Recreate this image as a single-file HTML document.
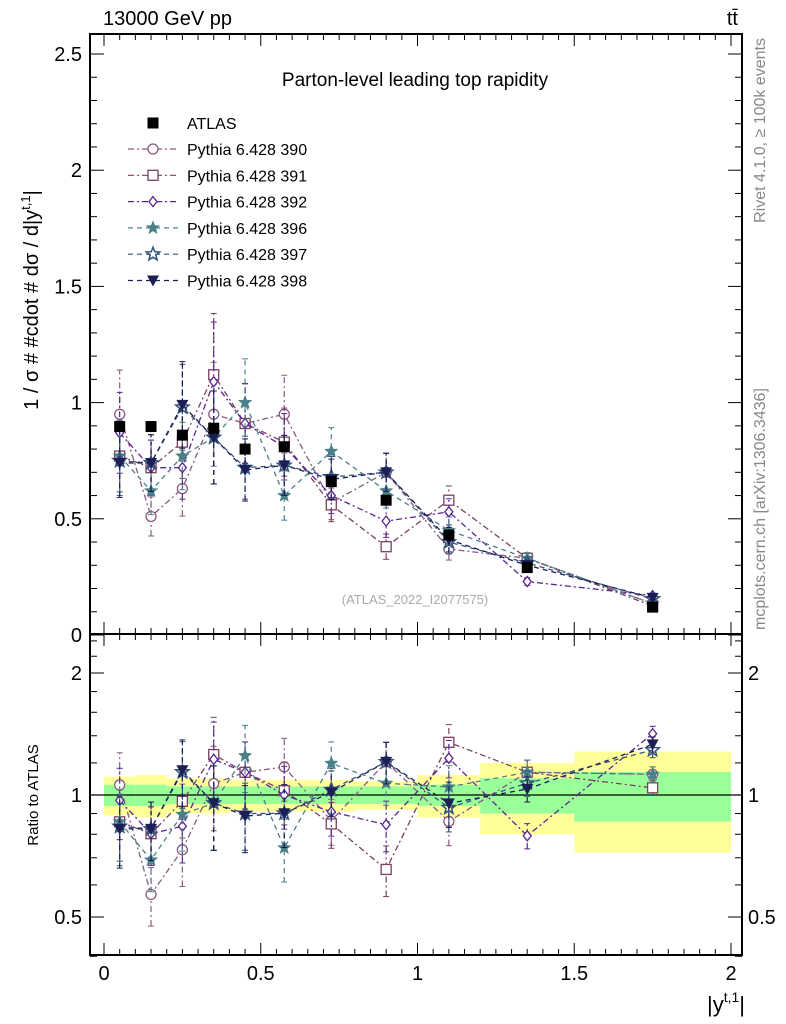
<!DOCTYPE html>
<html><head><meta charset="utf-8">
<style>
html,body{margin:0;padding:0;background:#fff;}
svg{display:block;font-family:"Liberation Sans",sans-serif;}
</style></head>
<body>
<svg id="chart" width="786" height="1024" viewBox="0 0 786 1024">
  <text x="103" y="25" font-size="20">13000 GeV pp</text>
  <text x="738" y="25" font-size="20" text-anchor="end">tt̄</text>
  <text x="415" y="86" font-size="19" text-anchor="middle">Parton-level leading top rapidity</text>
  <text x="415" y="604" font-size="13" fill="#aaa" text-anchor="middle">(ATLAS_2022_I2077575)</text>
  <text transform="translate(765,38) rotate(-90)" font-size="16" fill="#888" text-anchor="end">Rivet 4.1.0, ≥ 100k events</text>
  <text transform="translate(765,630) rotate(-90)" font-size="16" fill="#888">mcplots.cern.ch [arXiv:1306.3436]</text>
  <text transform="translate(38,300) rotate(-90)" font-size="20" text-anchor="middle">1 / σ # #cdot # dσ / d|y<tspan dy="-8" font-size="13">t,1</tspan><tspan dy="8">|</tspan></text>
  <text transform="translate(38,795) rotate(-90)" font-size="15" text-anchor="middle">Ratio to ATLAS</text>
  <text x="745" y="1012" font-size="22" text-anchor="end">|y<tspan dy="-10" font-size="14">t,1</tspan><tspan dy="10">|</tspan></text>
  <g id="g"></g>
</svg>
<script>
const binEdges=[0,0.1,0.2,0.3,0.4,0.5,0.65,0.8,1.0,1.2,1.5,2.0];
const xCenters=[0.05,0.15,0.25,0.35,0.45,0.575,0.725,0.9,1.1,1.35,1.75];
const atlas=[0.897,0.897,0.86,0.89,0.80,0.81,0.66,0.58,0.43,0.29,0.12];
const yellowRel=[0.11,0.12,0.10,0.10,0.09,0.09,0.09,0.08,0.12,0.20,0.28];
const greenRel=[0.06,0.06,0.05,0.05,0.05,0.05,0.05,0.05,0.06,0.10,0.14];
const mcErr=[0.17,0.14,0.16,0.20,0.16,0.15,0.11,0.10,0.09,0.05,0.03];
const p390=[0.95,0.51,0.63,0.95,0.91,0.95,0.57,0.70,0.37,0.33,0.135];
const p391=[0.77,0.72,0.83,1.12,0.91,0.83,0.56,0.38,0.58,0.33,0.125];
const p392=[0.87,0.72,0.72,1.09,0.91,0.81,0.60,0.49,0.53,0.23,0.17];
const p396=[0.77,0.62,0.77,0.85,1.00,0.60,0.79,0.62,0.45,0.33,0.135];
const p397=[0.75,0.74,0.98,0.85,0.72,0.73,0.68,0.70,0.40,0.31,0.155];
const p398=[0.74,0.74,0.99,0.85,0.71,0.73,0.67,0.70,0.41,0.30,0.16];
const yTicks=[0,0.5,1,1.5,2,2.5];
const yTickLabels=["0","0.5","1","1.5","2","2.5"];
const xTicks=[0,0.5,1,1.5,2];
const xTickLabels=["0","0.5","1","1.5","2"];
const rTicks=[0.5,1,2];
const rTickLabels=["0.5","1","2"];

const NS="http://www.w3.org/2000/svg";
const g=document.getElementById('g');
const L=90,R=742,T=34,MB=634,RB=955;
const X=v=>104+313.5*v;
const Y=v=>635-232.4*v;
const RY=v=>795-122*Math.log2(v);
function mk(tag,at,parent){const e=document.createElementNS(NS,tag);for(const k in at)e.setAttribute(k,at[k]);(parent||g).appendChild(e);return e;}

for(let i=0;i<xCenters.length;i++){
  const x0=X(binEdges[i]),x1=X(binEdges[i+1]);
  let e=mk('rect',{x:x0,y:RY(1+yellowRel[i]),width:x1-x0,height:RY(1-yellowRel[i])-RY(1+yellowRel[i]),fill:'#ffff99'});
  
  
  e=mk('rect',{x:x0,y:RY(1+greenRel[i]),width:x1-x0,height:RY(1-greenRel[i])-RY(1+greenRel[i]),fill:'#99ff99'});
  
  
}
mk('line',{x1:L,x2:R,y1:RY(1),y2:RY(1),stroke:'#000','stroke-width':1.2});

let f=mk('rect',{x:L,y:T,width:R-L,height:MB-T,fill:'none',stroke:'#000','stroke-width':2});


f=mk('rect',{x:L,y:MB,width:R-L,height:RB-MB,fill:'none',stroke:'#000','stroke-width':2});



for(let v=0;v<=2.001;v+=0.05){
  const big=Math.abs(v*2-Math.round(v*2))<1e-6, len=big?12:6;
  [T,MB].forEach(y0=>{mk('line',{x1:X(v),x2:X(v),y1:y0,y2:y0+len,stroke:'#000'});});
  [MB,RB].forEach(y0=>{mk('line',{x1:X(v),x2:X(v),y1:y0,y2:y0-len,stroke:'#000'});});
}
xTicks.forEach((v,i)=>{const t=mk('text',{x:X(v),y:980,'font-size':20,'text-anchor':'middle'});t.textContent=xTickLabels[i];

});
for(let v=0;v<=2.58;v+=0.1){
  const big=Math.abs(v*2-Math.round(v*2))<1e-6,len=big?14:7;
  mk('line',{x1:L,x2:L+len,y1:Y(v),y2:Y(v),stroke:'#000'});
  mk('line',{x1:R,x2:R-len,y1:Y(v),y2:Y(v),stroke:'#000'});
}
yTicks.forEach((v,i)=>{const t=mk('text',{x:82,y:Y(v)+7,'font-size':20,'text-anchor':'end'});t.textContent=yTickLabels[i];

});
[0.4,0.5,0.6,0.7,0.8,0.9,1,1.2,1.4,1.6,1.8,2,2.2,2.4].forEach(v=>{
  const big=[0.5,1,2].includes(v),len=big?14:7;
  mk('line',{x1:L,x2:L+len,y1:RY(v),y2:RY(v),stroke:'#000'});
  mk('line',{x1:R,x2:R-len,y1:RY(v),y2:RY(v),stroke:'#000'});
});
rTicks.forEach((v,i)=>{const t=mk('text',{x:82,y:RY(v)+7,'font-size':20,'text-anchor':'end'});t.textContent=rTickLabels[i];


const t2=mk('text',{x:748,y:RY(v)+7,'font-size':20});t2.textContent=rTickLabels[i];

});

function marker(kind,x,y,c,parent){
  if(kind==='circle')mk('circle',{cx:x,cy:y,r:5,fill:'#fff',stroke:c,'stroke-width':1.3},parent);
  else if(kind==='square')mk('rect',{x:x-5,y:y-5,width:10,height:10,fill:'#fff',stroke:c,'stroke-width':1.3},parent);
  else if(kind==='diamond')mk('polygon',{points:`${x},${y-5} ${x+4},${y} ${x},${y+5} ${x-4},${y}`,fill:'#fff',stroke:c,'stroke-width':1.3},parent);
  else if(kind==='star'||kind==='ostar'){let p=[];for(let k=0;k<10;k++){const r=k%2?3:7,a=-Math.PI/2+k*Math.PI/5;p.push((x+r*Math.cos(a)).toFixed(1)+','+(y+r*Math.sin(a)).toFixed(1));}
    mk('polygon',{points:p.join(' '),fill:kind==='star'?c:'none',stroke:c,'stroke-width':kind==='star'?0.5:1.5},parent);}
  else if(kind==='tri')mk('polygon',{points:`${x-6},${y-5} ${x+6},${y-5} ${x},${y+6}`,fill:c},parent);
  else if(kind==='fsq')mk('rect',{x:x-5.5,y:y-5.5,width:11,height:11,fill:c},parent);
}
const series=[
 {name:'Pythia 6.428 390',vals:p390,c:'#8a5a80',m:'circle',d:'6 3 2 3'},
 {name:'Pythia 6.428 391',vals:p391,c:'#7a4060',m:'square',d:'6 3 2 3'},
 {name:'Pythia 6.428 392',vals:p392,c:'#5a2590',m:'diamond',d:'6 3 2 3'},
 {name:'Pythia 6.428 396',vals:p396,c:'#4a8088',m:'star',d:'5 4'},
 {name:'Pythia 6.428 397',vals:p397,c:'#35557e',m:'ostar',d:'5 4'},
 {name:'Pythia 6.428 398',vals:p398,c:'#1c1e55',m:'tri',d:'5 4'}
];
series.forEach((s,si)=>{
  const sg=mk('g',{});
  
  
  let pts=[],rpts=[];
  s.vals.forEach((v,i)=>{
    const x=X(xCenters[i]),e=mcErr[i]*v/(v>0.5?0.85:0.7);
    pts.push(x+','+Y(v));
    mk('line',{x1:x,x2:x,y1:Y(v-e),y2:Y(v+e),stroke:s.c,'stroke-dasharray':s.d,'stroke-width':1.2},sg);
    mk('line',{x1:x-3,x2:x+3,y1:Y(v+e),y2:Y(v+e),stroke:s.c},sg);
    mk('line',{x1:x-3,x2:x+3,y1:Y(v-e),y2:Y(v-e),stroke:s.c},sg);
    const r=v/atlas[i],re=e/atlas[i];
    rpts.push(x+','+RY(r));
    mk('line',{x1:x,x2:x,y1:RY(Math.max(r-re,0.41)),y2:RY(r+re),stroke:s.c,'stroke-dasharray':s.d,'stroke-width':1.2},sg);
    mk('line',{x1:x-3,x2:x+3,y1:RY(r+re),y2:RY(r+re),stroke:s.c},sg);
    mk('line',{x1:x-3,x2:x+3,y1:RY(r-re),y2:RY(r-re),stroke:s.c},sg);
  });
  mk('polyline',{points:pts.join(' '),fill:'none',stroke:s.c,'stroke-dasharray':s.d,'stroke-width':1.3},sg);
  mk('polyline',{points:rpts.join(' '),fill:'none',stroke:s.c,'stroke-dasharray':s.d,'stroke-width':1.3},sg);
  s.vals.forEach((v,i)=>{marker(s.m,X(xCenters[i]),Y(v),s.c,sg);marker(s.m,X(xCenters[i]),RY(v/atlas[i]),s.c,sg);});
  const ly=149+si*26.3;
  const lg=mk('g',{});
  
  
  mk('line',{x1:128,x2:178,y1:ly,y2:ly,stroke:s.c,'stroke-dasharray':s.d,'stroke-width':1.2},lg);
  marker(s.m,153,ly,s.c,lg);
  const t=mk('text',{x:187,y:ly+6,'font-size':16},lg);t.textContent=s.name;
});
const ag=mk('g',{});


atlas.forEach((v,i)=>marker('fsq',X(xCenters[i]),Y(v),'#000',ag));
const lg=mk('g',{});


marker('fsq',153,123,'#000',lg);
const at=mk('text',{x:187,y:129,'font-size':16},lg);at.textContent='ATLAS';
</script>
</body></html>
